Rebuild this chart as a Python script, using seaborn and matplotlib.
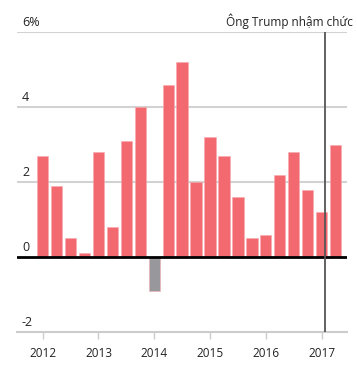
import numpy as np
import pandas as pd
import matplotlib
matplotlib.use("Agg")
import matplotlib.pyplot as plt
import matplotlib.transforms as mtransforms
import seaborn as sns

# Data: US quarterly GDP growth (annualized, %), 2012Q1 - 2017Q2
QUARTERS = [f"{y}Q{q}" for y in range(2012, 2018) for q in range(1, 5)][:22]
GROWTH = [2.7, 1.9, 0.5, 0.1,
          2.8, 0.8, 3.1, 4.0,
          -0.9, 4.6, 5.2, 2.0,
          3.2, 2.7, 1.6, 0.5,
          0.6, 2.2, 2.8, 1.8,
          1.2, 3.0]
YEARS = [2012, 2013, 2014, 2015, 2016, 2017]
Y_TICKS = [6, 4, 2, 0, -2]
Y_LABELS = ["6%", "4", "2", "0", "-2"]
TRUMP_DATE = 2017 + 19 / 365  # Jan 20 2017
TRUMP_LABEL = "Ông Trump nhậm chức"

RED = "#f26970"
GRAY = "#98989c"

df = pd.DataFrame({"quarter": QUARTERS, "growth": GROWTH})
df["sign"] = np.where(df["growth"] >= 0, "up", "down")

sns.set_style("white")
plt.rcParams["font.family"] = ["Open Sans", "DejaVu Sans"]

fig = plt.figure(figsize=(3.57, 3.74), dpi=100)
ax = fig.add_axes([17 / 357, 42 / 374, 330 / 357, 300 / 374])

sns.barplot(data=df, x="quarter", y="growth", hue="sign", order=QUARTERS,
            palette={"up": RED, "down": GRAY}, dodge=False, width=0.81,
            saturation=1, legend=False, ax=ax, edgecolor="#f7a9ad", linewidth=0.4)

ax.set_ylim(-2, 6)
ax.set_xlim(-1.84, 21.82)

# gridlines
for v in Y_TICKS:
    if v in (0, -2):
        continue
    ax.axhline(v, color="#d2d2d2", lw=1.5, zorder=0)
ax.axhline(0, color="black", lw=2, zorder=3)

# y labels sitting on top of gridlines
trans = mtransforms.blended_transform_factory(ax.transAxes, ax.transData)
offset = mtransforms.ScaledTranslation(0, 3 / 100, fig.dpi_scale_trans)
for v, lab in zip(Y_TICKS, Y_LABELS):
    ax.text(5 / 330, v, lab, transform=trans + offset, ha="left", va="bottom",
            fontsize=9, color="#222222")

# Trump inauguration line
trump_x = (TRUMP_DATE - 2012) * 4
ax.axvline(trump_x, color="#555555", lw=1.3, zorder=4)
ax.text(1.0 + 6 / 330, 6, TRUMP_LABEL, transform=trans + offset, ha="right",
        va="bottom", fontsize=8.5, color="#222222")

# x axis
ax.set_xticks([(y - 2012) * 4 for y in YEARS])
ax.set_xticklabels([str(y) for y in YEARS], fontsize=8.5, color="#222222")
ax.set_yticks([])
ax.set_xlabel("")
ax.set_ylabel("")
ax.tick_params(axis="x", length=5, width=1, color="#cccccc", direction="out", pad=6,
               bottom=True)
for s in ["top", "left", "right"]:
    ax.spines[s].set_visible(False)
ax.spines["bottom"].set_color("#cccccc")
ax.spines["bottom"].set_linewidth(1.5)

fig.savefig("out.png", dpi=100)
